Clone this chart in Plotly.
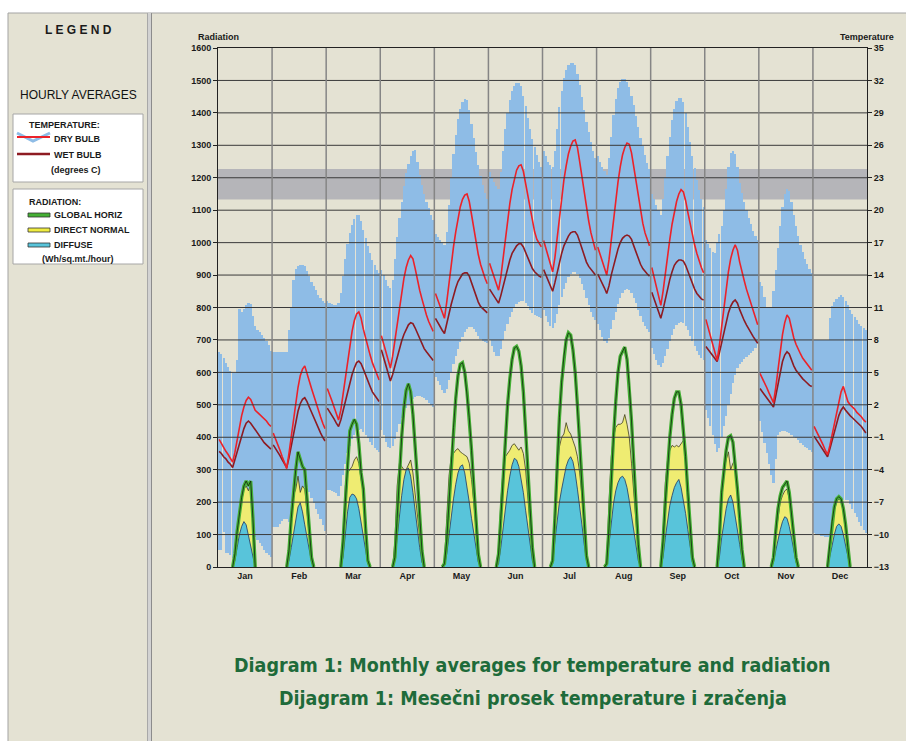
import plotly.graph_objects as go

W, H = 906, 741

MONTHS = ["Jan", "Feb", "Mar", "Apr", "May", "Jun", "Jul", "Aug", "Sep", "Oct", "Nov", "Dec"]
RAD_TICKS = list(range(0, 1700, 100))
TEMP_TICKS = list(range(-13, 36, 3))
COMFORT_BAND = [21.0, 23.8]

# hourly averages (deg C), 24 values per month
DRY_BULB = [
    [-1.2,-1.6,-1.9,-2.3,-2.6,-2.9,-3.3,-2.4,-1.2,0.0,1.0,1.8,2.4,2.7,2.5,2.0,1.5,1.3,1.1,0.9,0.7,0.5,0.2,0.0],
    [-0.6,-1.1,-1.7,-2.2,-2.8,-3.3,-3.9,-2.5,-0.9,0.8,2.3,3.6,4.7,5.3,5.6,5.0,4.2,3.5,2.8,2.1,1.5,0.9,0.3,-0.2],
    [3.5,3.0,2.4,1.8,1.2,0.6,1.5,3.0,4.6,6.2,7.6,8.8,9.8,10.4,10.6,10.0,9.0,8.1,7.3,6.6,5.9,5.3,4.8,4.3],
    [8.4,7.6,6.8,6.1,5.4,6.5,8.0,9.6,11.1,12.5,13.7,14.7,15.4,15.8,15.5,14.6,13.5,12.6,11.8,11.0,10.3,9.7,9.2,8.8],
    [12.3,11.7,11.1,10.5,10.0,11.5,13.3,15.0,16.6,18.0,19.3,20.3,21.0,21.4,21.5,20.8,19.6,18.3,17.0,15.9,15.0,14.3,13.7,13.2],
    [15.1,14.5,13.8,13.2,12.6,13.8,15.6,17.4,19.1,20.6,21.9,22.9,23.7,24.1,24.2,23.6,22.5,21.2,20.0,18.9,18.0,17.3,16.9,16.6],
    [17.2,16.5,15.7,15.0,14.3,15.6,17.5,19.4,21.2,22.8,24.1,25.2,25.9,26.4,26.5,25.8,24.5,23.0,21.6,20.2,19.0,17.9,17.0,16.3],
    [16.6,16.0,15.3,14.7,14.0,15.4,17.3,19.2,21.0,22.6,24.0,25.1,25.8,26.2,26.1,25.3,24.0,22.6,21.2,19.9,18.8,17.9,17.2,16.7],
    [14.7,13.8,12.9,12.1,11.2,12.5,14.2,15.8,17.3,18.7,19.9,20.8,21.5,21.9,21.7,20.9,19.8,18.7,17.7,16.8,16.0,15.3,14.7,14.2],
    [9.9,9.1,8.4,7.6,6.9,6.1,7.5,9.3,11.1,12.8,14.3,15.5,16.3,16.8,16.3,15.2,14.2,13.5,12.7,12.0,11.3,10.6,10.0,9.4],
    [4.9,4.5,4.0,3.6,3.1,2.7,2.2,3.6,5.3,7.0,8.5,9.6,10.3,10.0,9.0,8.2,7.6,7.1,6.7,6.3,6.0,5.7,5.4,5.2],
    [0.0,-0.4,-0.9,-1.3,-1.7,-2.2,-2.6,-1.8,-0.8,0.3,1.3,2.3,3.2,3.7,3.0,2.3,2.0,1.8,1.6,1.3,1.1,0.9,0.6,0.4],
]
WET_BULB = [
    [-2.3,-2.5,-2.8,-3.0,-3.3,-3.5,-3.8,-3.1,-2.3,-1.5,-0.8,-0.2,0.3,0.5,0.3,0.0,-0.4,-0.7,-1.0,-1.2,-1.5,-1.7,-1.9,-2.1],
    [-1.7,-2.0,-2.4,-2.7,-3.1,-3.4,-3.8,-2.9,-1.8,-0.6,0.5,1.4,2.1,2.5,2.65,2.3,1.8,1.3,0.8,0.3,-0.2,-0.6,-1.0,-1.35],
    [1.7,1.4,1.0,0.7,0.3,0.0,0.6,1.5,2.4,3.3,4.1,4.8,5.4,5.9,6.05,5.8,5.3,4.7,4.2,3.7,3.2,2.9,2.6,2.3],
    [7.1,6.4,5.6,4.9,4.2,4.8,5.6,6.4,7.2,7.9,8.5,9.0,9.4,9.6,9.5,9.1,8.6,8.1,7.6,7.2,6.9,6.6,6.3,6.1],
    [10.0,9.6,9.3,8.9,8.6,9.4,10.4,11.3,12.1,12.8,13.4,13.8,14.1,14.2,14.2,13.9,13.3,12.6,12.0,11.5,11.1,10.9,10.7,10.5],
    [12.7,12.4,12.0,11.7,11.4,12.1,13.0,13.9,14.7,15.4,16.0,16.4,16.7,16.9,16.9,16.6,16.1,15.5,15.0,14.6,14.3,14.1,13.9,13.8],
    [14.5,14.0,13.5,13.0,12.5,13.3,14.3,15.2,16.0,16.7,17.2,17.6,17.9,18.0,18.0,17.7,17.1,16.4,15.8,15.2,14.8,14.5,14.2,14.0],
    [14.1,13.7,13.2,12.8,12.3,13.0,14.0,14.9,15.7,16.4,17.0,17.4,17.6,17.7,17.6,17.3,16.7,16.1,15.5,15.0,14.6,14.3,14.1,13.9],
    [12.4,11.8,11.2,10.6,10.0,10.8,11.8,12.8,13.6,14.3,14.9,15.2,15.4,15.4,15.3,14.9,14.3,13.7,13.2,12.7,12.3,12.0,11.8,11.7],
    [7.4,7.1,6.8,6.6,6.3,6.0,6.8,7.8,8.8,9.7,10.5,11.1,11.5,11.7,11.4,10.8,10.2,9.8,9.4,9.0,8.6,8.3,8.0,7.7],
    [3.5,3.2,2.9,2.6,2.4,2.1,1.8,2.8,4.0,5.1,6.0,6.6,6.9,6.7,6.1,5.6,5.2,4.9,4.6,4.4,4.2,4.0,3.8,3.7],
    [-0.9,-1.2,-1.5,-1.8,-2.2,-2.5,-2.8,-2.1,-1.3,-0.5,0.3,1.0,1.5,1.8,1.5,1.2,1.0,0.8,0.6,0.4,0.2,0.0,-0.3,-0.6],
]
# hourly dry-bulb range (highest / lowest), deg C
DRY_MAX = [
    [6.9,6.7,6.3,5.9,5.5,5.1,4.9,4.9,6.1,10.9,10.6,10.9,11.2,11.4,11.3,10.2,9.3,8.9,8.7,8.5,8.2,7.9,7.5,7.0],
    [6.9,6.9,6.9,6.9,6.9,6.9,6.9,8.9,11.0,13.5,14.6,14.8,14.9,14.9,14.8,14.4,13.9,13.4,13.0,12.6,12.2,11.9,11.6,11.4],
    [11.6,11.4,11.3,11.2,11.2,11.4,12.3,13.9,15.5,16.9,17.9,18.6,19.2,19.6,19.6,19.0,18.2,17.4,16.7,16.0,15.4,14.9,14.5,14.2],
    [14.5,14.0,13.5,13.0,12.8,13.5,15.5,17.5,19.3,20.8,22.2,23.4,24.3,25.0,25.5,25.6,24.5,23.3,22.3,21.5,20.8,20.2,19.6,19.1],
    [17.8,17.5,17.2,17.0,16.8,18.0,20.5,23.0,25.2,27.0,28.4,29.4,30.0,30.3,30.2,29.3,28.0,26.7,25.4,24.2,23.2,22.3,21.6,21.0],
    [23.5,23.0,22.6,22.2,22.0,23.5,25.5,27.5,29.0,30.2,31.0,31.5,31.8,31.8,31.5,30.6,29.6,28.5,27.5,26.6,25.8,25.1,24.5,24.0],
    [25.5,25.0,24.5,24.2,24.0,25.5,27.5,29.5,31.0,32.2,33.0,33.4,33.6,33.6,33.4,32.6,31.6,30.5,29.3,28.2,27.2,26.3,25.5,24.8],
    [25.0,24.5,24.0,23.6,23.3,24.8,26.8,28.8,30.3,31.3,31.9,32.1,32.1,31.9,31.4,30.6,29.7,28.7,27.7,26.7,25.9,25.1,24.4,23.8],
    [21.5,21.0,20.5,20.0,19.6,21.0,23.0,25.0,26.8,28.3,29.4,30.1,30.4,30.4,30.0,29.0,27.7,26.3,25.0,23.9,22.8,21.9,21.0,20.3],
    [17.2,16.9,16.5,16.1,16.0,17.0,17.8,18.5,20.0,22.0,24.0,25.3,25.5,25.2,24.0,22.5,21.6,20.8,20.0,19.3,18.7,18.1,17.6,17.2],
    [13.4,13.0,12.0,11.0,11.0,11.0,12.5,14.5,16.5,18.5,20.3,21.5,22.0,21.8,20.8,19.6,18.5,17.6,16.8,16.1,15.5,15.0,14.6,14.2],
    [8.0,8.0,8.0,8.0,8.0,8.0,8.0,10.0,11.1,11.5,11.8,12.0,12.2,12.0,11.6,11.2,10.8,10.4,10.1,9.8,9.5,9.3,9.1,8.9],
]
DRY_MIN = [
    [-11.4,-11.4,-9.8,-11.7,-11.7,-11.9,-12.2,-12.4,-12.4,-12.3,-12.0,-11.8,-11.6,-11.2,-10.8,-10.5,-10.2,-10.5,-10.8,-11.1,-11.4,-11.7,-11.9,-12.1],
    [-9.3,-9.3,-9.3,-9.0,-8.7,-8.6,-8.6,-8.8,-8.5,-8.0,-7.5,-7.0,-6.5,-6.0,-5.6,-5.6,-6.1,-6.6,-7.1,-7.6,-8.1,-8.6,-9.1,-9.7],
    [-5.9,-5.9,-6.0,-6.1,-6.2,-6.4,-5.5,-4.5,-3.5,-2.5,-1.8,-1.2,-0.8,-0.5,-0.3,-0.2,-0.5,-0.8,-1.1,-1.4,-1.7,-2.0,-2.2,-2.4],
    [-0.3,-0.8,-1.4,-1.9,-2.0,-1.8,-1.2,-0.5,0.2,0.8,1.3,1.7,2.0,2.3,2.5,2.7,2.8,2.8,2.7,2.6,2.4,2.2,2.0,1.8],
    [4.6,4.2,3.8,3.4,3.1,3.5,4.3,5.0,5.8,6.5,7.2,7.8,8.3,8.7,9.0,9.2,9.2,9.0,8.7,8.4,8.1,7.9,7.8,7.7],
    [8.0,7.4,6.9,6.5,6.5,7.2,8.0,8.8,9.5,10.1,10.6,11.0,11.3,11.5,11.6,11.6,11.4,11.1,10.8,10.5,10.3,10.2,10.1,10.0],
    [10.8,10.2,9.7,9.3,9.1,9.6,10.4,11.2,12.0,12.7,13.3,13.8,14.1,14.3,14.3,14.1,13.7,13.2,12.6,11.9,11.2,10.6,10.1,9.8],
    [9.5,8.9,8.3,7.9,7.7,8.2,9.0,9.8,10.6,11.3,11.9,12.3,12.6,12.7,12.6,12.3,11.9,11.4,10.8,10.2,9.7,9.3,9.0,8.7],
    [7.3,6.7,6.1,5.7,5.5,5.9,6.5,7.2,7.9,8.5,9.0,9.4,9.6,9.7,9.6,9.3,8.9,8.4,7.9,7.4,7.0,6.6,6.3,6.1],
    [1.5,0.8,0.0,-0.8,-1.6,-2.4,-2.0,-1.0,0.0,1.0,2.0,3.0,4.0,4.8,5.4,5.8,6.0,6.2,6.4,6.6,6.8,7.0,7.3,7.6],
    [0.5,-0.5,-1.5,-2.5,-3.5,-4.5,-5.2,-3.0,-0.8,-0.5,-0.4,-0.4,-0.5,-0.6,-0.8,-1.0,-1.1,-1.3,-1.5,-1.7,-1.9,-2.0,-2.2,-2.4],
    [-9.9,-10.0,-10.0,-10.1,-10.1,-10.2,-10.2,-10.3,-10.3,-10.0,-9.0,-8.0,-7.2,-6.8,-6.8,-6.8,-7.2,-7.6,-8.0,-8.4,-8.8,-9.2,-9.6,-9.9],
]
# hourly radiation (Wh/sq.m/hour)
GLOBAL_HORIZ = [
    [0,0,0,0,0,0,0,40,110,170,215,250,265,250,265,150,0,0,0,0,0,0,0,0],
    [0,0,0,0,0,0,0,50,150,240,300,355,335,310,300,220,120,30,0,0,0,0,0,0],
    [0,0,0,0,0,0,0,80,200,320,420,440,455,440,380,290,240,120,20,0,0,0,0,0],
    [0,0,0,0,0,0,30,150,280,400,490,545,565,540,470,380,270,160,50,0,0,0,0,0],
    [0,0,0,0,10,80,200,320,430,520,590,625,630,600,540,460,360,250,140,40,0,0,0,0],
    [0,0,0,0,40,150,280,400,500,580,640,675,680,665,620,540,430,310,180,60,0,0,0,0],
    [0,0,0,0,20,150,320,460,570,650,700,722,715,670,600,500,380,250,130,35,0,0,0,0],
    [0,0,0,0,10,120,270,400,510,600,650,665,678,640,560,450,320,190,70,0,0,0,0,0],
    [0,0,0,0,0,80,200,310,400,470,520,540,540,500,430,340,230,120,30,0,0,0,0,0],
    [0,0,0,0,0,0,90,230,300,360,400,405,385,320,240,150,55,0,0,0,0,0,0,0],
    [0,0,0,0,0,0,30,110,180,220,245,255,265,230,170,100,30,0,0,0,0,0,0,0],
    [0,0,0,0,0,0,0,70,140,185,210,217,210,180,130,60,0,0,0,0,0,0,0,0],
]
DIRECT_NORMAL = [
    [0,0,0,0,0,0,0,30,100,160,205,240,250,235,255,140,0,0,0,0,0,0,0,0],
    [0,0,0,0,0,0,0,40,150,220,240,280,230,250,240,180,100,20,0,0,0,0,0,0],
    [0,0,0,0,0,0,0,60,250,290,300,310,330,340,320,270,240,110,15,0,0,0,0,0],
    [0,0,0,0,0,0,80,250,320,310,300,300,315,330,290,230,170,100,30,0,0,0,0,0],
    [0,0,0,0,20,150,280,340,350,360,365,355,350,345,340,320,270,200,120,40,0,0,0,0],
    [0,0,0,0,60,200,300,340,350,360,375,380,370,360,370,350,300,220,130,40,0,0,0,0],
    [0,0,0,0,10,150,300,370,400,410,445,420,410,390,370,340,290,220,130,40,0,0,0,0],
    [0,0,0,0,20,200,340,400,430,440,440,445,470,440,400,320,230,140,50,0,0,0,0,0],
    [0,0,0,0,0,100,260,330,360,375,370,375,370,380,390,330,220,110,30,0,0,0,0,0],
    [0,0,0,0,0,0,80,250,300,330,355,300,320,330,260,170,60,0,0,0,0,0,0,0],
    [0,0,0,0,0,0,25,100,160,200,220,235,240,210,160,95,25,0,0,0,0,0,0,0],
    [0,0,0,0,0,0,0,60,130,175,200,210,205,175,125,55,0,0,0,0,0,0,0,0],
]
DIFFUSE = [
    [0,0,0,0,0,0,0,20,60,100,125,140,130,100,70,35,0,0,0,0,0,0,0,0],
    [0,0,0,0,0,0,0,20,60,100,150,185,198,170,130,90,50,15,0,0,0,0,0,0],
    [0,0,0,0,0,0,0,30,100,170,215,225,222,210,180,140,100,50,10,0,0,0,0,0],
    [0,0,0,0,0,0,20,90,160,220,270,300,305,280,230,170,110,60,15,0,0,0,0,0],
    [0,0,0,0,5,40,100,160,210,255,290,310,315,290,250,200,150,100,50,15,0,0,0,0],
    [0,0,0,0,10,60,120,180,235,280,315,335,330,310,275,230,175,120,65,20,0,0,0,0],
    [0,0,0,0,10,80,150,200,240,280,310,330,340,325,290,240,190,130,70,20,0,0,0,0],
    [0,0,0,0,10,70,140,195,235,260,275,280,270,245,205,160,110,60,20,0,0,0,0,0],
    [0,0,0,0,0,30,90,150,190,220,245,260,270,245,210,165,115,60,15,0,0,0,0,0],
    [0,0,0,0,0,0,30,90,140,180,210,222,200,160,115,70,25,0,0,0,0,0,0,0],
    [0,0,0,0,0,0,15,50,85,115,140,155,150,125,90,55,15,0,0,0,0,0,0,0],
    [0,0,0,0,0,0,0,30,65,100,125,133,125,100,70,35,0,0,0,0,0,0,0,0],
]

NH = 24
X_MAX = NH * len(MONTHS)


def hour_x(m, h):
    return m * NH + h + 0.5


def month_series(data):
    xs, ys = [], []
    for m, vals in enumerate(data):
        for h, v in enumerate(vals):
            xs.append(hour_x(m, h))
            ys.append(v)
        xs.append(None)
        ys.append(None)
    return xs, ys


def daylight_series(data):
    xs, ys = [], []
    for m, vals in enumerate(data):
        for h, v in enumerate(vals):
            prev_v = vals[h - 1] if h > 0 else 0
            next_v = vals[h + 1] if h < NH - 1 else 0
            if v > 0 or prev_v > 0 or next_v > 0:
                xs.append(hour_x(m, h))
                ys.append(v)
        xs.append(None)
        ys.append(None)
    return xs, ys


def PX(x):
    return x / W


def PY(y):
    return 1 - y / H


fig = go.Figure()

# temperature range bars
bx, btop, bbase = [], [], []
for m in range(len(MONTHS)):
    for h in range(NH):
        bx.append(hour_x(m, h))
        bbase.append(DRY_MIN[m][h])
        btop.append(DRY_MAX[m][h] - DRY_MIN[m][h])
fig.add_trace(go.Bar(x=bx, y=btop, base=bbase, width=0.97, xaxis="x", yaxis="y",
                     marker=dict(color="#8EBCE6", line=dict(width=0)), hoverinfo="skip",
                     showlegend=False))

wx, wy = month_series(WET_BULB)
fig.add_trace(go.Scatter(x=wx, y=wy, mode="lines", xaxis="x", yaxis="y",
                         line=dict(color="#8E1B22", width=1.6), showlegend=False))
dx, dy = month_series(DRY_BULB)
fig.add_trace(go.Scatter(x=dx, y=dy, mode="lines", xaxis="x", yaxis="y",
                         line=dict(color="#EC2229", width=1.6), showlegend=False))

# radiation (overlay axis, drawn above temperature layer)
yx, yy = daylight_series(DIRECT_NORMAL)
fig.add_trace(go.Scatter(x=yx, y=yy, mode="lines", fill="tozeroy", xaxis="x", yaxis="y2",
                         fillcolor="#EFEC72", line=dict(color="#3F3F1E", width=0.8),
                         showlegend=False))
cx, cy = daylight_series(DIFFUSE)
fig.add_trace(go.Scatter(x=cx, y=cy, mode="lines", fill="tozeroy", xaxis="x", yaxis="y2",
                         fillcolor="#58C4DA", line=dict(color="#1D3766", width=0.8),
                         showlegend=False))
gx, gy = daylight_series(GLOBAL_HORIZ)
fig.add_trace(go.Scatter(x=gx, y=gy, mode="lines", xaxis="x", yaxis="y2",
                         line=dict(color="#45B035", width=3.4), showlegend=False))
fig.add_trace(go.Scatter(x=gx, y=gy, mode="lines", xaxis="x", yaxis="y2",
                         line=dict(color="#10240C", width=0.8), showlegend=False))

shapes = []
# page panels
shapes.append(dict(type="rect", xref="paper", yref="paper", x0=PX(8), x1=PX(W + 2), y0=PY(H + 2), y1=PY(13),
                   fillcolor="#E4E2D3", line=dict(color="#A3A3A3", width=1), layer="below"))
shapes.append(dict(type="rect", xref="paper", yref="paper", x0=PX(147), x1=PX(152), y0=PY(H + 2), y1=PY(13),
                   fillcolor="#D2D2D2", line=dict(width=0), layer="below"))
shapes.append(dict(type="line", xref="paper", yref="paper", x0=PX(151.5), x1=PX(151.5), y0=PY(H + 2), y1=PY(13),
                   line=dict(color="#8C8C8C", width=1), layer="below"))
shapes.append(dict(type="line", xref="paper", yref="paper", x0=PX(147.5), x1=PX(147.5), y0=PY(H + 2), y1=PY(13),
                   line=dict(color="#A8A8A8", width=1), layer="below"))
# legend boxes
for (yt, yb) in [(114, 182), (189, 264)]:
    shapes.append(dict(type="rect", xref="paper", yref="paper", x0=PX(13), x1=PX(143), y0=PY(yb), y1=PY(yt),
                       fillcolor="white", line=dict(color="#A6A6A6", width=1), layer="below"))
# legend symbols
shapes.append(dict(type="path", xref="paper", yref="paper",
                   path=f"M {PX(17)},{PY(133)} L {PX(33)},{PY(141)} L {PX(50)},{PY(133)}",
                   line=dict(color="#8EBCE6", width=3), layer="above"))
shapes.append(dict(type="line", xref="paper", yref="paper", x0=PX(17), x1=PX(50), y0=PY(137), y1=PY(137),
                   line=dict(color="#EC2229", width=2), layer="above"))
shapes.append(dict(type="line", xref="paper", yref="paper", x0=PX(17), x1=PX(50), y0=PY(154), y1=PY(154),
                   line=dict(color="#8E1B22", width=2.5), layer="above"))
for yc, col in [(215, "#45B035"), (230, "#EFEC40"), (245, "#58C4DA")]:
    shapes.append(dict(type="rect", xref="paper", yref="paper", x0=PX(28), x1=PX(50), y0=PY(yc + 2), y1=PY(yc - 2),
                       fillcolor=col, line=dict(color="#333333", width=0.8), layer="above"))

# comfort band
shapes.append(dict(type="rect", xref="x", yref="y", x0=0, x1=X_MAX, y0=COMFORT_BAND[0], y1=COMFORT_BAND[1],
                   fillcolor="#B5B5B9", line=dict(width=0), layer="below"))
# grid lines drawn over the bars
for r in RAD_TICKS[1:-1]:
    shapes.append(dict(type="line", xref="x", yref="y2", x0=0, x1=X_MAX, y0=r, y1=r,
                       line=dict(color="#3A3A3A", width=1), layer="above"))
for m in range(1, len(MONTHS)):
    shapes.append(dict(type="line", xref="x", yref="y2", x0=m * NH, x1=m * NH, y0=RAD_TICKS[0], y1=RAD_TICKS[-1],
                       line=dict(color="#858585", width=1.5), layer="above"))

small = dict(family="Liberation Sans, Arial, sans-serif", size=9, color="#1A1A1A", weight="bold")

annotations = []


def txt(x, y, s, size=9, bold=True, anchor="left", color="#1A1A1A", family="Liberation Sans, Arial, sans-serif"):
    annotations.append(dict(x=PX(x), y=PY(y), xref="paper", yref="paper", text=s, showarrow=False,
                            xanchor=anchor, yanchor="middle",
                            font=dict(family=family, size=size, color=color, weight="bold" if bold else "normal")))


txt(78, 30, "L E G E N D", size=12, anchor="center")
txt(78, 95, "HOURLY AVERAGES", size=12, bold=False, anchor="center", color="#111111")
txt(27, 125, "TEMPERATURE:")
txt(52, 139, "DRY BULB")
txt(52, 155, "WET BULB")
txt(49, 170, "(degrees C)")
txt(27, 202, "RADIATION:")
txt(52, 215, "GLOBAL HORIZ")
txt(52, 230, "DIRECT NORMAL")
txt(52, 245, "DIFFUSE")
txt(40, 259, "(Wh/sq.mt./hour)")
txt(196, 37, "Radiation", anchor="left")
txt(896, 37, "Temperature", anchor="right")
title_font = "Liberation Sans Narrow, DejaVu Sans Condensed, Arial Narrow, sans-serif"
txt(532, 665, "Diagram 1: Monthly averages for temperature and radiation", size=19.5, anchor="center",
    color="#1E6B3A", family=title_font)
txt(533, 698, "Dijagram 1: Mesečni prosek temperature i zračenja", size=19.5, anchor="center",
    color="#1E6B3A", family=title_font)

fig.update_layout(
    width=W, height=H,
    margin=dict(l=0, r=0, t=0, b=0),
    paper_bgcolor="white",
    plot_bgcolor="white",
    showlegend=False,
    bargap=0,
    shapes=shapes,
    annotations=annotations,
    xaxis=dict(domain=[PX(218), PX(867)], range=[0, X_MAX], tickvals=[hour_x(m, 11.5) for m in range(12)],
               ticktext=MONTHS, ticks="", showgrid=False, zeroline=False, showline=True, linecolor="#222222",
               linewidth=1, mirror=True, tickfont=small, automargin=False, fixedrange=True),
    yaxis=dict(domain=[PY(567), PY(48)], range=[TEMP_TICKS[0], TEMP_TICKS[-1]], tickvals=TEMP_TICKS,
               side="right", ticks="outside", ticklen=4, tickcolor="#222222", showgrid=False, zeroline=False,
               showline=True, linecolor="#222222", linewidth=1, tickfont=small, automargin=False, fixedrange=True),
    yaxis2=dict(domain=[PY(567), PY(48)], range=[RAD_TICKS[0], RAD_TICKS[-1]], tickvals=RAD_TICKS,
                overlaying="y", side="left", anchor="x", ticks="outside", ticklen=4, tickcolor="#222222",
                showgrid=False, zeroline=False, showline=True, linecolor="#222222", linewidth=1,
                tickfont=small, automargin=False, fixedrange=True),
)

fig.write_html("out.html", config={"displayModeBar": False, "staticPlot": True},
               post_script="document.body.style.margin='0';")
